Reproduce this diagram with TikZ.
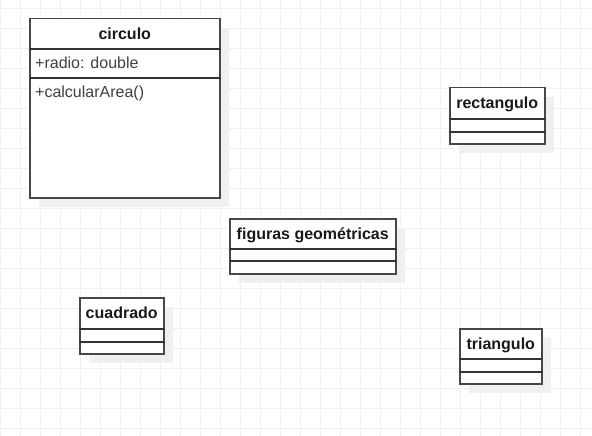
\documentclass[tikz,border=0pt]{standalone}
\usepackage{fontspec}
\setmainfont{Liberation Sans}
\usetikzlibrary{shadows}
\begin{document}
\begin{tikzpicture}[x=1pt,y=-1pt,
  classbox/.style={draw=black!72, line width=1.5pt, fill=white, inner sep=0pt, anchor=north west,
    drop shadow={shadow xshift=9pt, shadow yshift=-9pt, fill=black!6, opacity=1}},
  divider/.style={draw=black!80, line width=1.2pt},
  classtitle/.style={font=\bfseries\fontsize{16}{19}\selectfont, text=black!90, inner sep=0pt, text height=11.5pt, text depth=3.4pt},
  member/.style={font=\fontsize{16}{19}\selectfont, text=black!75, inner sep=0pt, anchor=west, text height=11.5pt, text depth=3.4pt},
  gridline/.style={draw=black!6, line width=0.8pt}]
\useasboundingbox (0,0) rectangle (592,436);
\fill[white] (0,0) rectangle (592,436);
\foreach \x in {0,20,...,580} \draw[gridline] (\x,0) -- (\x,436);
\foreach \y in {8,28,...,428} \draw[gridline] (0,\y) -- (592,\y);

% circulo
\node[classbox, minimum width=190pt, minimum height=179pt] (circulo) at (29,18) {};
\draw[divider] ([yshift=-31pt]circulo.north west) -- ([yshift=-31pt]circulo.north east);
\draw[divider] ([yshift=-60pt]circulo.north west) -- ([yshift=-60pt]circulo.north east);
\node[classtitle] (circulo-t) at ([yshift=-17pt]circulo.north) {circulo};
\node[member] (circulo-a) at ([xshift=6pt,yshift=-46pt]circulo.north west) {+radio: double};
\node[member] (circulo-m) at ([xshift=6pt,yshift=-75pt]circulo.north west) {+calcularArea()};

% figuras geometricas
\node[classbox, minimum width=166pt, minimum height=55pt] (figuras) at (229,218) {};
\draw[divider] ([yshift=-31pt]figuras.north west) -- ([yshift=-31pt]figuras.north east);
\draw[divider] ([yshift=-43pt]figuras.north west) -- ([yshift=-43pt]figuras.north east);
\node[classtitle] (figuras-t) at ([yshift=-17pt]figuras.north) {figuras geométricas};

% rectangulo
\node[classbox, minimum width=95pt, minimum height=56pt] (rect) at (449,87) {};
\draw[divider] ([yshift=-32pt]rect.north west) -- ([yshift=-32pt]rect.north east);
\draw[divider] ([yshift=-45pt]rect.north west) -- ([yshift=-45pt]rect.north east);
\node[classtitle] (rect-t) at ([yshift=-17.5pt]rect.north) {rectangulo};

% cuadrado
\node[classbox, minimum width=84pt, minimum height=56pt] (cuad) at (79,297) {};
\draw[divider] ([yshift=-32pt]cuad.north west) -- ([yshift=-32pt]cuad.north east);
\draw[divider] ([yshift=-45pt]cuad.north west) -- ([yshift=-45pt]cuad.north east);
\node[classtitle] (cuad-t) at ([yshift=-17.5pt]cuad.north) {cuadrado};

% triangulo
\node[classbox, minimum width=82pt, minimum height=55pt] (tri) at (459,328) {};
\draw[divider] ([yshift=-31pt]tri.north west) -- ([yshift=-31pt]tri.north east);
\draw[divider] ([yshift=-44pt]tri.north west) -- ([yshift=-44pt]tri.north east);
\node[classtitle] (tri-t) at ([yshift=-17pt]tri.north) {triangulo};
\end{tikzpicture}
\end{document}
